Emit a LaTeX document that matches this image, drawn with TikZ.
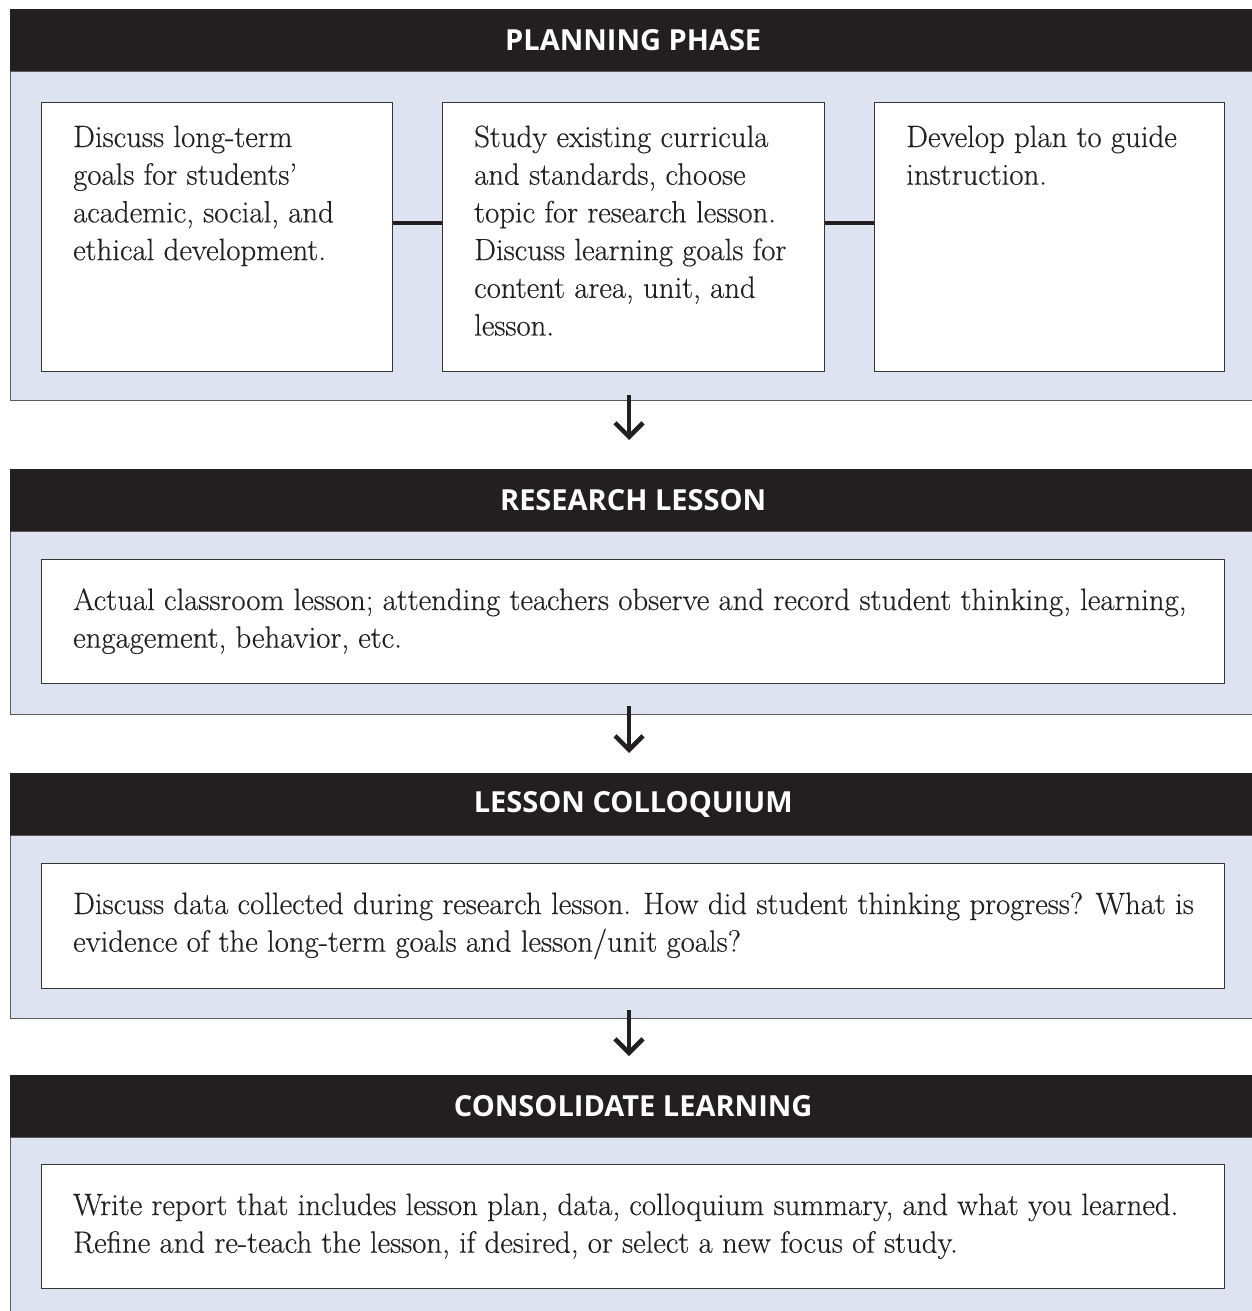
\documentclass[tikz,border=0pt]{standalone}
\usepackage{fontspec}
\newfontfamily\hfont{Open Sans}
\newfontfamily\bodyfont{Latin Modern Roman}[FakeBold=0.35]
\usetikzlibrary{arrows.meta}
\definecolor{barblack}{HTML}{231F20}
\definecolor{panelblue}{HTML}{DDE3F0}
\definecolor{panelline}{HTML}{5A5A5E}
\begin{document}
\begin{tikzpicture}[x=1pt,y=-1pt,
  header/.style={fill=barblack, draw=none, text=white, font=\hfont\bfseries\fontsize{29}{34}\selectfont, inner sep=0, anchor=north west, minimum width=1247, minimum height=62},
  panel/.style={fill=panelblue, draw=panelline, line width=1.3pt, anchor=north west, minimum width=1247},
  box/.style={fill=white, draw=barblack!90, line width=1.3pt, anchor=north west},
  body/.style={font=\bodyfont\fontsize{30.8}{37.7}\selectfont, align=left, inner sep=0, anchor=base west, text=barblack},
  link/.style={line width=4pt, draw=barblack},
  arr/.style={line width=4.5pt, draw=barblack, -{Straight Barb[length=14pt,width=28pt,line width=4.5pt]}}]
\useasboundingbox (0,0) rectangle (1252,1311);
\fill[white] (0,0) rectangle (1252,1311);

% ---- Planning phase ----
\node[panel, minimum height=329] (p1) at (9.5,71) {};
\node[header] (h1) at (9.5,9) {PLANNING PHASE};
\node[box, minimum width=351, minimum height=269] (b1) at (41,102) {};
\node[box, minimum width=382, minimum height=269] (b2) at (442,102) {};
\node[box, minimum width=350, minimum height=269] (b3) at (874,102) {};
\draw[link] ([yshift=14.5pt]b1.east) -- ([yshift=14.5pt]b2.west);
\draw[link] ([yshift=14.5pt]b2.east) -- ([yshift=14.5pt]b3.west);
% base anchor = baseline of the last line
\node[body] (t1) at (73,260.1) {Discuss long-term\\goals for students’\\academic, social, and\\ethical development.};
\node[body] (t2) at (474,335.5) {Study existing curricula\\and standards, choose\\topic for research lesson.\\Discuss learning goals for\\content area, unit, and\\lesson.};
\node[body] (t3) at (906,184.7) {Develop plan to guide\\instruction.};

% ---- Research lesson ----
\node[panel, minimum height=183] (p2) at (9.5,531) {};
\node[header] (h2) at (9.5,469) {RESEARCH LESSON};
\node[box, minimum width=1183, minimum height=124] (b4) at (41,559) {};
\node[body] (t4) at (73,647.7) {Actual classroom lesson; attending teachers observe and record student thinking, learning,\\engagement, behavior, etc.};

% ---- Lesson colloquium ----
\node[panel, minimum height=183] (p3) at (9.5,835) {};
\node[header] (h3) at (9.5,773) {LESSON COLLOQUIUM};
\node[box, minimum width=1183, minimum height=125] (b5) at (41,863) {};
\node[body] (t5) at (73,951.7) {Discuss data collected during research lesson. How did student thinking progress? What is\\evidence of the long-term goals and lesson/unit goals?};

% ---- Consolidate learning ----
\node[panel, minimum height=190] (p4) at (9.5,1137) {};
\node[header] (h4) at (9.5,1075) {CONSOLIDATE LEARNING};
\node[box, minimum width=1183, minimum height=124] (b6) at (41,1164) {};
\node[body] (t6) at (73,1252.7) {Write report that includes lesson plan, data, colloquium summary, and what you learned.\\Refine and re-teach the lesson, if desired, or select a new focus of study.};

% ---- Arrows ----
\coordinate (a1s) at (629,395); \coordinate (a1e) at (629,440);
\coordinate (a2s) at (629,706); \coordinate (a2e) at (629,753);
\coordinate (a3s) at (629,1010); \coordinate (a3e) at (629,1056);
\draw[arr] (a1s) -- (a1e);
\draw[arr] (a2s) -- (a2e);
\draw[arr] (a3s) -- (a3e);
\end{tikzpicture}
\end{document}
